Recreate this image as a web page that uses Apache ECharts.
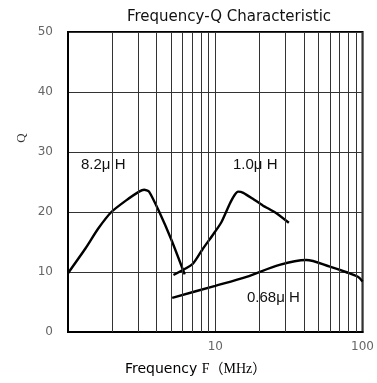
<!DOCTYPE html>
<html>
<head>
<meta charset="utf-8">
<script src="https://cdn.jsdelivr.net/npm/echarts@6/dist/echarts.min.js"></script>
<style>html,body{margin:0;padding:0;background:#fff}#c{width:377px;height:383px}</style>
</head>
<body>
<div id="c"></div>
<script>
// Frequency (MHz) and Q values
const freq82 = [1, 1.32, 1.6, 1.97, 2.47, 3.04, 3.29, 3.55, 4.17, 5.05, 6.2];
const q82    = [9.8, 14.0, 17.2, 20.0, 21.9, 23.4, 23.7, 23.4, 20.0, 15.3, 9.6];
const freq10 = [5.2, 7.0, 8.2, 9.7, 11, 12.5, 13.5, 14.3, 15.5, 18, 21, 26, 31.6];
const q10    = [9.5, 11.3, 13.8, 16.3, 18.3, 21.3, 22.8, 23.4, 23.2, 22.2, 21.1, 19.8, 18.2];
const freq068 = [5.1, 10, 16.3, 27.3, 41.4, 60, 77, 93, 100];
const q068    = [5.7, 7.7, 9.2, 11.2, 12.0, 10.9, 10.0, 9.2, 8.4];
const minorFreqs = [2, 3, 4, 5, 6, 7, 8, 9, 20, 30, 40, 50, 60, 70, 80, 90];
const xTickLabels = [10, 100];
const seriesNames = ['8.2\u03bc H', '1.0\u03bc H', '0.68\u03bc H'];

const zip = (a, b) => a.map((v, i) => [v, b[i]]);
const chart = echarts.init(document.getElementById('c'), null, {renderer: 'canvas'});
const lineStyle = {color: '#000', width: 2.4};
chart.setOption({
  animation: false,
  backgroundColor: '#fff',
  title: {
    text: 'Frequency-Q Characteristic', left: 224, top: 5, textAlign: 'center',
    textStyle: {fontFamily: 'DejaVu Sans', fontSize: 15, fontWeight: 'normal', color: '#111'}
  },
  grid: {left: 68, right: 14, top: 32, bottom: 51, show: true, borderColor: '#000', borderWidth: 2, backgroundColor: 'transparent'},
  xAxis: {
    type: 'log', logBase: 10, min: 1, max: 100,
    axisLine: {show: true, lineStyle: {color: '#000', width: 2}},
    axisTick: {show: false},
    splitLine: {show: true, lineStyle: {color: '#333', width: 1}},
    axisLabel: {
      color: '#666', fontFamily: 'DejaVu Sans', fontSize: 12, margin: 9,
      formatter: v => (xTickLabels.indexOf(Math.round(v)) >= 0 ? String(Math.round(v)) : '')
    }
  },
  yAxis: {
    type: 'value', min: 0, max: 50, interval: 10,
    axisLine: {show: true, lineStyle: {color: '#000', width: 2}},
    axisTick: {show: false},
    splitLine: {show: true, lineStyle: {color: '#333', width: 1}},
    axisLabel: {color: '#666', fontFamily: 'DejaVu Sans', fontSize: 12, margin: 15}
  },
  series: [
    {
      name: seriesNames[0], type: 'line', data: zip(freq82, q82), smooth: 0.2,
      showSymbol: false, lineStyle: lineStyle, itemStyle: {color: '#000'},
      markLine: {
        silent: true, symbol: ['none', 'none'], label: {show: false},
        lineStyle: {color: '#333', width: 1, type: 'solid'},
        data: minorFreqs.map(f => ({xAxis: f}))
      }
    },
    {name: seriesNames[1], type: 'line', data: zip(freq10, q10), smooth: 0.2,
     showSymbol: false, lineStyle: lineStyle, itemStyle: {color: '#000'}},
    {name: seriesNames[2], type: 'line', data: zip(freq068, q068), smooth: 0.3,
     showSymbol: false, lineStyle: lineStyle, itemStyle: {color: '#000'}}
  ],
  graphic: [
    {type: 'text', x: 81, y: 165, style: {text: seriesNames[0], font: '15px "Liberation Sans"', fill: '#111', textVerticalAlign: 'middle'}},
    {type: 'text', x: 233, y: 165, style: {text: seriesNames[1], font: '15px "Liberation Sans"', fill: '#111', textVerticalAlign: 'middle'}},
    {type: 'text', x: 247, y: 298, style: {text: seriesNames[2], font: '15px "Liberation Sans"', fill: '#111', textVerticalAlign: 'middle', backgroundColor: '#fff'}},
    {type: 'text', x: 22, y: 138, rotation: Math.PI / 2, style: {text: 'Q', font: '13px "Liberation Serif"', fill: '#333', textAlign: 'center', textVerticalAlign: 'middle'}},
    {type: 'text', x: 125, y: 369, style: {
      text: '{a|Frequency }{b|F\uff08MHz\uff09}', textVerticalAlign: 'middle',
      rich: {
        a: {fontFamily: 'DejaVu Sans', fontSize: 14, color: '#222'},
        b: {fontFamily: '"Liberation Serif", "Noto Sans CJK JP"', fontSize: 14, color: '#222'}
      }
    }}
  ]
});
</script>
</body>
</html>
